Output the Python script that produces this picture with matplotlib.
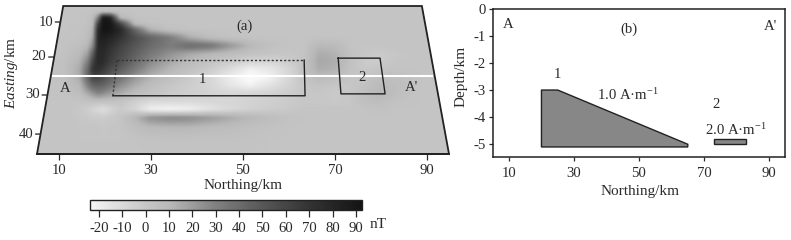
import numpy as np
import matplotlib
matplotlib.use("Agg")
import matplotlib.pyplot as plt
from matplotlib.colors import LinearSegmentedColormap, Normalize
from matplotlib.patches import Polygon
from matplotlib.cm import ScalarMappable

plt.rcParams.update({
    "font.family": "Liberation Serif", "font.size": 10.6,
    "mathtext.fontset": "custom", "mathtext.rm": "Liberation Serif",
    "mathtext.it": "Liberation Serif:italic", "mathtext.default": "regular",
    "text.color": "#2a2a2a", "axes.labelcolor": "#2a2a2a",
    "xtick.color": "#2a2a2a", "ytick.color": "#2a2a2a",
    "axes.edgecolor": "#222222",
})

northing = [5.2, 11.3, 14.6, 16.3, 17.4, 18.5, 19.6, 21.1, 23.3, 26.5, 29.8, 34.1, 38.5, 42.8,
            47.2, 51.5, 55.9, 60.2, 63.5, 66.7, 70.0, 73.3, 76.5, 79.8, 83.0, 88.5, 94.8]
easting = [5.3, 7.1, 8.9, 10.6, 12.3, 14.6, 16.9, 19.1, 21.3, 23.4, 25.5, 27.6, 29.7, 31.8,
           33.8, 35.9, 38.5, 41.5, 45.1]
field = [
 [2,2,2,2,2,2,2,2,2,2,2,2,2,2,2,2,2,2,2,2,2,2,2,2,2,2,2],
 [2,2,2,2,2,2,3,2,2,2,2,2,2,2,2,2,2,2,2,2,2,2,2,2,2,2,2],
 [2,2,2,3,5,30,90,85,8,2,2,2,2,2,2,2,2,2,2,2,2,2,2,2,2,2,2],
 [2,2,2,3,6,60,92,90,60,6,3,2,2,2,2,2,2,2,2,2,2,2,2,2,2,2,2],
 [2,2,3,4,10,75,92,90,78,42,12,3,2,2,2,2,2,2,2,2,2,2,2,2,2,2,2],
 [2,2,3,6,15,78,85,80,70,55,44,32,14,6,3,2,2,2,2,2,2,2,2,2,2,2,2],
 [2,3,5,10,25,78,80,72,62,50,40,32,40,36,22,10,4,2,2,10,8,2,1,1,2,2,2],
 [2,3,8,18,45,78,76,68,58,46,34,24,16,11,7,3,1,0,2,14,12,3,0,-2,0,2,2],
 [2,4,12,30,60,78,74,64,54,40,27,16,8,2,-3,-8,-8,-3,3,16,14,3,-3,-2,1,2,2],
 [2,4,15,40,70,72,66,56,46,32,20,10,3,-3,-12,-22,-17,-8,3,14,12,3,-1,1,2,2,2],
 [2,4,15,42,60,60,54,46,36,22,12,5,-2,-8,-20,-26,-22,-8,2,8,5,1,2,6,5,2,2],
 [2,3,10,30,42,45,42,35,25,14,6,0,-4,-8,-16,-22,-14,-6,0,2,0,0,3,8,6,2,2],
 [2,3,6,15,22,28,25,20,14,6,2,-2,-4,-6,-8,-8,-6,-3,0,0,-2,0,6,10,6,2,2],
 [2,2,1,2,3,2,2,2,1,-5,-10,-10,-10,-9,-8,-6,-4,-2,0,0,-1,0,5,6,3,2,2],
 [2,2,-1,-4,-8,-10,-13,-8,-2,-8,-22,-24,-22,-15,-10,-6,-3,-1,1,1,1,1,2,3,2,2,2],
 [2,2,0,-1,-2,-2,-3,-1,1,10,24,28,26,21,15,10,6,3,2,2,2,2,2,2,2,2,2],
 [2,2,1,1,1,1,0,1,1,5,8,9,9,7,6,4,3,2,2,2,2,2,2,2,2,2,2],
 [2,2,1,1,1,1,1,1,1,2,3,3,3,3,3,3,2,2,2,2,2,2,2,2,2,2,2],
 [2,2,2,2,2,2,2,2,2,2,2,2,2,2,2,2,2,2,2,2,2,2,2,2,2,2,2],
]
cbar_ticks = [-20, -10, 0, 10, 20, 30, 40, 50, 60, 70, 80, 90]
easting_ticks = [10, 20, 30, 40]
northing_ticks = [10, 30, 50, 70, 90]
depth_ticks = [0, -1, -2, -3, -4, -5]
frame_n = [10.9, 88.9, 94.8, 5.2]
frame_e = [5.3, 5.3, 45.1, 45.1]
rect1_n = [22.6, 63.3, 63.5, 21.7]
rect1_e = [20.8, 20.8, 30.2, 30.2]
rect2_n = [70.7, 79.8, 80.9, 71.3, 70.7]
rect2_e = [20.3, 20.3, 29.7, 29.7, 20.3]
body1_n = [20, 25, 65, 65, 20]
body1_d = [-3, -3, -5, -5.1, -5.1]
body2_n = [73, 83, 83, 73]
body2_d = [-4.8, -4.8, -5.0, -5.0]

W, H = 791, 240
def box(l, t, r, b):
    return [l / W, 1 - b / H, (r - l) / W, (b - t) / H]

cmap = LinearSegmentedColormap.from_list("g", [
    (0.0, "#f8f8f8"), (4 / 116.4, "#ededed"), (24 / 116.4, "#c6c6c6"), (34 / 116.4, "#b8b8b8"),
    (54 / 116.4, "#808080"), (74 / 116.4, "#575757"), (94 / 116.4, "#333333"), (1.0, "#141414")])
norm = Normalize(-23.8, 92.6)

fig = plt.figure(figsize=(W / 100, H / 100), dpi=100)

# panel (a)
ax = fig.add_axes(box(37, 6, 449, 154))
ax.set_xlim(5.2, 94.8)
e_key = [5.3, 10, 20, 30, 45.1]
px_key = [6, 22, 57, 95, 154]
to_px = lambda v: np.interp(v, e_key, px_key)
to_e = lambda v: np.interp(v, px_key, e_key)
ax.set_yscale("function", functions=(to_px, to_e))
ax.set_ylim(45.1, 5.3)

# resample the read-off table onto the pixel raster and soften it, for display only
table = np.array(field, float)
fine_n = np.linspace(5.2, 94.8, 413)
fine_px = np.linspace(6, 154, 149)
rows = np.array([np.interp(fine_n, northing, r) for r in table])
grid = np.array([np.interp(fine_px, to_px(np.array(easting)), c) for c in rows.T]).T
kernel = np.array([1, 2, 3, 2, 1]) / 9
pad = np.pad(grid, 2, mode="edge")
pad = np.apply_along_axis(lambda r: np.convolve(r, kernel, "same"), 0, pad)
pad = np.apply_along_axis(lambda r: np.convolve(r, kernel, "same"), 1, pad)
grid = pad[2:-2, 2:-2]
X, Y = np.meshgrid(fine_n, to_e(fine_px))
mesh = ax.pcolormesh(X, Y, grid, cmap=cmap, norm=norm, shading="gouraud")
frame = Polygon(np.column_stack([frame_n, frame_e]), closed=True, fc="none", ec="#222222",
                lw=1.3, clip_on=False, zorder=6)
ax.add_patch(frame)
mesh.set_clip_path(frame)
for s in ["left", "right", "top"]:
    ax.spines[s].set_visible(False)
ax.spines["bottom"].set_linewidth(1.3)
ax.set_xticks(northing_ticks)
ax.tick_params(axis="x", length=4, width=0.9, pad=3)
ax.set_yticks([])
ax.minorticks_off()
ax.set_yticks([], minor=True)
for e in easting_ticks:
    edge = np.interp(e, [5.3, 45.1], [frame_n[0], frame_n[3]])
    ax.annotate("", xy=(edge, e), xytext=(-3.5, 0), textcoords="offset points",
                arrowprops=dict(arrowstyle="-", lw=0.9, color="#222222", shrinkA=0, shrinkB=0),
                annotation_clip=False)
    ax.annotate(str(e), xy=(edge, e), xytext=(-5, 0), textcoords="offset points",
                ha="right", va="center", annotation_clip=False)
ax.plot([8.7, 91.1], [25, 25], color="white", lw=1.5, zorder=4, clip_on=False)
ax.plot(rect1_n[:2], rect1_e[:2], color="#333333", lw=1, ls=(0, (1.5, 1.5)), zorder=5)
ax.plot([rect1_n[3], rect1_n[0]], [rect1_e[3], rect1_e[0]], color="#333333", lw=1, ls=(0, (1.5, 1.5)), zorder=5)
ax.plot(rect1_n[1:4], rect1_e[1:4], color="#222222", lw=1, zorder=5)
ax.plot(rect2_n, rect2_e, color="#222222", lw=1, zorder=5)
for n, e, s in [(11.3, 28.3, "A"), (86.7, 28, "A'"), (41.1, 25.8, "1"), (75.9, 25.5, "2"), (50.4, 11.3, "(a)")]:
    ax.text(n, e, s, ha="center", va="center", zorder=7)
fig.text(243 / W, 1 - 185 / H, "Northing/km", ha="center", va="center", fontsize=11)
fig.text(11 / W, 1 - 73 / H, r"$\mathit{Easting}$/km", rotation=90, ha="center", va="center", fontsize=11)

# colour bar
cax = fig.add_axes(box(90, 200, 362, 210))
cb = fig.colorbar(ScalarMappable(norm=norm, cmap=cmap), cax=cax, orientation="horizontal", ticks=cbar_ticks)
cb.ax.tick_params(length=5, width=0.9, pad=4)
cb.outline.set_linewidth(1)
cb.ax.set_xticklabels([str(v) for v in cbar_ticks])
fig.text(378 / W, 1 - 225 / H, "nT", ha="center", va="center", fontsize=11)

# panel (b)
bx = fig.add_axes(box(493, 8.7, 785, 157))
bx.set_xlim(5.1, 94.9)
bx.set_ylim(-5.47, 0)
bx.fill(body1_n, body1_d, fc="#878787", ec="#222222", lw=1)
bx.fill(body2_n, body2_d, fc="#878787", ec="#222222", lw=1)
for s in bx.spines.values():
    s.set_linewidth(1.1)
bx.set_xticks(northing_ticks)
bx.set_yticks(depth_ticks)
bx.set_yticklabels([str(v) for v in depth_ticks])
bx.tick_params(length=3, width=0.9, pad=2)
bx.tick_params(axis="x", pad=4)
for n, d, s, ha in [(9.7, -0.6, "A", "center"), (47, -0.75, "(b)", "center"), (90.5, -0.64, "A'", "center"),
                    (25, -2.41, "1", "center"), (73.6, -3.55, "2", "center"),
                    (37, -3.18, r"1.0 A·m$^{-1}$", "left"), (70.3, -4.47, r"2.0 A·m$^{-1}$", "left")]:
    bx.text(n, d, s, ha=ha, va="center")
fig.text(640 / W, 1 - 191 / H, "Northing/km", ha="center", va="center", fontsize=11)
fig.text(461 / W, 1 - 76 / H, "Depth/km", rotation=90, ha="center", va="center", fontsize=11)

fig.savefig("out.png", dpi=100)
